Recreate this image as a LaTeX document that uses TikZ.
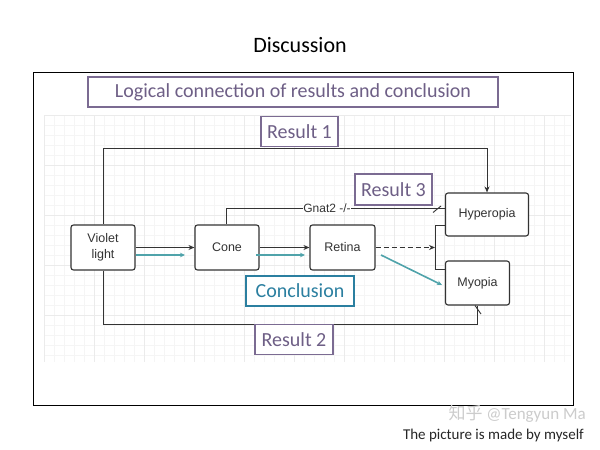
\documentclass[tikz,border=0pt]{standalone}
\usepackage{fontspec}
\setmainfont{Carlito}
\newfontfamily\arialf{Liberation Sans}
\newfontfamily\cjkf{Noto Sans CJK SC}
\usetikzlibrary{arrows.meta}
\definecolor{lab}{HTML}{6E5F86}
\definecolor{labbd}{HTML}{7B6B92}
\definecolor{teal}{HTML}{2B7FA0}
\definecolor{tealarr}{HTML}{4FA3AA}
\definecolor{bd}{HTML}{333333}
\tikzset{
  blk/.style={draw=bd, line width=1.1pt, rounded corners=2.5pt, fill=white, font=\arialf\fontsize{12.5}{16.5}\selectfont, text=black!80, align=center, inner sep=0pt},
  labbox/.style={draw=labbd, line width=1.6pt, fill=white, text=lab, font=\fontsize{20}{22}\selectfont, inner sep=0pt},
  conn/.style={draw=bd, line width=0.9pt},
  arr/.style={conn, -{Stealth[length=6pt,width=5pt]}},
  tarr/.style={draw=tealarr, line width=1.6pt, -{Stealth[length=5pt,width=4.5pt]}},
}
\begin{document}
\begin{tikzpicture}[x=1pt,y=-1pt]
\useasboundingbox (0,0) rectangle (600,450);
\fill[white] (0,0) rectangle (600,450);
% grid
\begin{scope}
\clip (44,115) rectangle (571,362);
\foreach \x in {44,54,...,574} \draw[black!4, line width=0.4pt] (\x,115) -- (\x,362);
\foreach \y in {115,125,...,365} \draw[black!4, line width=0.4pt] (44,\y) -- (571,\y);
\foreach \x in {44,94,...,574} \draw[black!8, line width=0.5pt] (\x,115) -- (\x,362);
\foreach \y in {115,165,...,365} \draw[black!8, line width=0.5pt] (44,\y) -- (571,\y);
\end{scope}
% title
\node[font=\fontsize{22}{24}\selectfont] (title) at (300,45) {Discussion};
% frame
\draw[black, line width=1pt] (33,72) rectangle (573,405);
% nodes
\node[blk, minimum width=64pt, minimum height=45pt] (V) at (103,247.5) {Violet\\light};
\node[blk, minimum width=64pt, minimum height=45pt] (C) at (227,247.5) {Cone};
\node[blk, minimum width=65pt, minimum height=45pt] (R) at (342.5,247.5) {Retina};
\node[blk, minimum width=83pt, minimum height=43pt] (H) at (487,214.5) {Hyperopia};
\node[blk, minimum width=64pt, minimum height=44pt] (M) at (477.5,283) {Myopia};
% Result 1 line
\coordinate (r1) at (487,148);
\draw[arr] (V.north) |- (r1) -- (H.north);
% Result 2 line
\coordinate (r2) at (477.5,324);
\draw[conn] (V.south) |- (r2) -- (M.south);
\draw[conn] (475,305.5) -- (481,314);
% Gnat2 line
\coordinate (g1) at (226,208.5);
\coordinate (g2) at (H.west |- g1);
\draw[conn] (C.north -| g1) -- (g1) -- (g2);
\draw[conn] (433,212.5) -- (441,206);
\node[fill=white, inner sep=0.5pt, font=\arialf\fontsize{12}{14}\selectfont, text=black!80] (gn) at (327,208.5) {Gnat2 -/-};
% black arrows
\draw[arr] (V.east) -- (C.west);
\draw[arr] (C.east) -- (R.west);
% bracket + dashed
\coordinate (bt) at (435,225);
\coordinate (bb) at (435,269.5);
\coordinate (bm) at (435,247.5);
\draw[conn] (H.west |- bt) -- (bt) -- (bb) -- (M.west |- bb);
\draw[arr, dash pattern=on 5pt off 3pt] (R.east) -- (bm);
% teal arrows
\coordinate (t1a) at (136,255); \coordinate (t1b) at (185,255);
\coordinate (t2a) at (256,255); \coordinate (t2b) at (305,255);
\coordinate (t3a) at (381,255); \coordinate (t3b) at (442,285);
\draw[tarr] (t1a) -- (t1b);
\draw[tarr] (t2a) -- (t2b);
\draw[tarr] (t3a) -- (t3b);
% label boxes
\node[labbox, minimum width=410pt, minimum height=30pt] (hdr) at (293,92) {Logical connection of results and conclusion};
\node[labbox, minimum width=77pt, minimum height=30pt] (res1) at (299.5,131.5) {Result 1};
\node[labbox, minimum width=77pt, minimum height=31pt] (res3) at (393.5,189.5) {Result 3};
\node[labbox, minimum width=78pt, minimum height=30pt] (res2) at (294,339.5) {Result 2};
\node[labbox, draw=teal, text=teal, minimum width=108pt, minimum height=30pt] (conc) at (300,291) {Conclusion};
% footer
\node[anchor=base east, text=black!20, font=\fontsize{17}{19}\selectfont, inner sep=0pt] (wm) at (586,419) {{\cjkf 知乎} @Tengyun Ma};
\node[anchor=base east, text=black!85, font=\fontsize{15}{17}\selectfont, inner sep=0pt] (foot) at (584,439) {The picture is made by myself};
\end{tikzpicture}
\end{document}
